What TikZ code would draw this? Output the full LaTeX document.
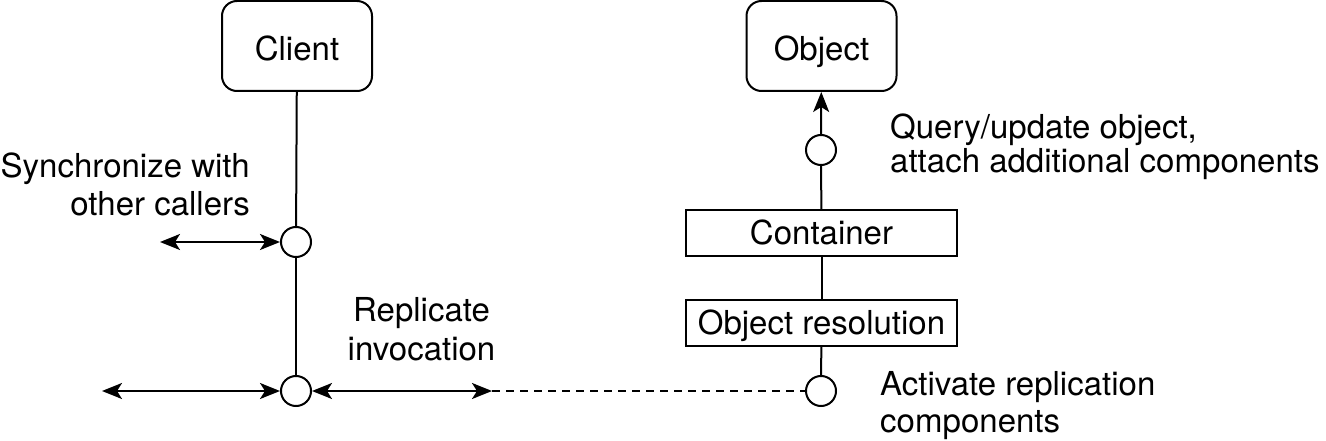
\documentclass[tikz,border=0pt]{standalone}
\usepackage{fontspec}
\setmainfont{TeX Gyre Heros}
\usetikzlibrary{arrows.meta}
\begin{document}
\begin{tikzpicture}[x=1pt,y=-1pt,
  every node/.style={font=\fontsize{33}{38}\selectfont},
  lw/.style={line width=2pt},
  rbox/.style={lw,draw,rounded corners=15pt,minimum width=150pt,minimum height=90pt,inner sep=0pt,text height=30pt,text depth=0pt},
  sbox/.style={lw,draw,minimum width=271pt,minimum height=46pt,inner sep=0pt,text height=23.5pt,text depth=0pt},
  port/.style={lw,draw,fill=white,circle,minimum size=30pt,inner sep=0pt},
  tip/.style={lw,-{Stealth[length=20pt,width=16pt,inset=5pt]}},
  dbl/.style={lw,{Stealth[length=20pt,width=16pt,inset=5pt]}-{Stealth[length=20pt,width=16pt,inset=5pt]}},
  dashline/.style={lw,dash pattern=on 8pt off 6pt},
  lbl/.style={inner sep=0pt}
]
\useasboundingbox (0,0) rectangle (1326,441);
% boxes
\node[rbox] (client) at (297,46) {Client};
\node[rbox] (object) at (821.5,46) {Object};
\node[sbox] (cont) at (821.5,233) {Container};
\node[sbox] (res) at (821.5,323) {Object resolution};
% ports
\node[port] (c1) at (296,242) {};
\node[port] (c2) at (296,391) {};
\node[port] (o1) at (821,150) {};
\node[port] (o2) at (821,391) {};
% free ends
\coordinate (sl) at (160,242);
\coordinate (bl) at (102,391);
\coordinate (br) at (492,391);
% connectors
\draw[lw] (client) -- (c1);
\draw[lw] (c1) -- (c2);
\draw[dbl] (sl) -- (c1);
\draw[dbl] (bl) -- (c2);
\draw[dbl] (c2) -- (br);
\draw[dashline] (br) -- (o2);
\draw[tip] (o1) -- (object);
\draw[lw] (o1) -- (cont);
\draw[lw] (cont) -- (res);
\draw[lw] (res) -- (o2);
% labels (base anchor = baseline of the last line)
\node[lbl,anchor=base east,align=right,font=\fontsize{33}{38}\selectfont] (sync) at (250,215) {Synchronize with\\other callers};
\node[lbl,anchor=base,align=center,font=\fontsize{33}{39}\selectfont] (repl) at (421.5,360) {Replicate\\invocation};
\node[lbl,anchor=base west,align=left,font=\fontsize{33}{34}\selectfont] (query) at (890,173) {Query/update object,\\attach additional components};
\node[lbl,anchor=base west,align=left,font=\fontsize{33}{37}\selectfont] (act) at (880,432) {Activate replication\\components};
\end{tikzpicture}
\end{document}
